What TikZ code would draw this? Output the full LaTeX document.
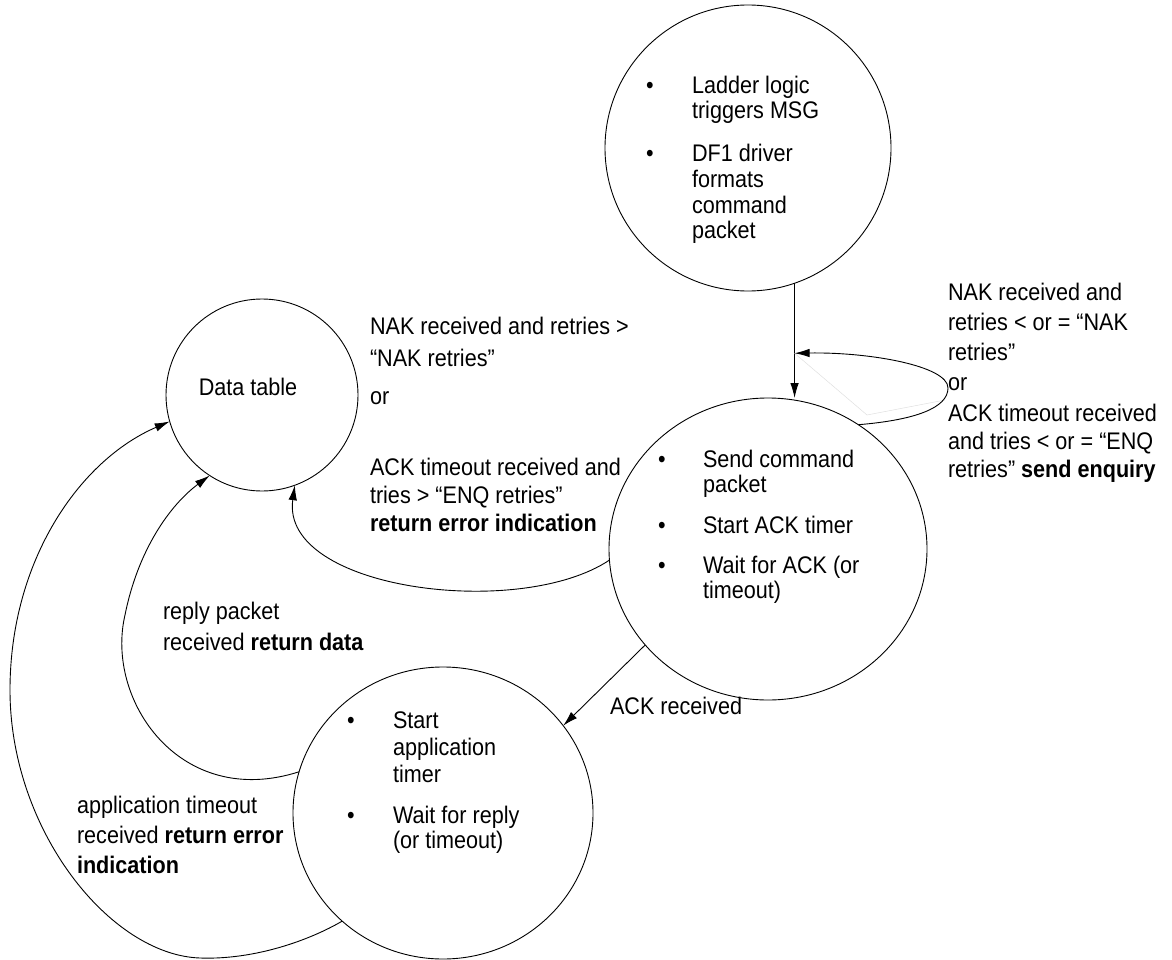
\documentclass[tikz,border=0pt]{standalone}
\usepackage{fontspec}
\setmainfont{Liberation Sans}[FakeStretch=0.9]
\usetikzlibrary{shapes.geometric, arrows.meta, calc}
\newcommand\diagfont{\fontsize{24}{25}\selectfont}
\begin{document}
\begin{tikzpicture}[x=1pt, y=-1pt,
  every node/.style={font=\diagfont, inner sep=0pt, outer sep=0pt},
  state/.style={draw, ellipse, line width=0.9pt},
  conn/.style={line width=0.9pt, -{Latex[length=15pt,width=8.5pt]}},
  txt/.style={anchor=base west},
  dot/.style={anchor=base},
]
\useasboundingbox (0,0) rectangle (1172,960);

% states
\node[state, minimum width=286pt, minimum height=286pt] (top) at (748,148) {};
\node[state, minimum width=192pt, minimum height=192pt] (dt) at (262,395) {};
\node[state, minimum width=318pt, minimum height=302pt] (mid) at (768,549) {};
\node[state, minimum width=300pt, minimum height=292pt] (bot) at (443,813) {};

% top state text
\node[dot] (b1) at (650,94) {\textbullet};
\node[txt] (t1) at (692,94) {Ladder logic};
\node[txt] (t2) at (692,119) {triggers MSG};
\node[dot] (b2) at (650,162) {\textbullet};
\node[txt] (t3) at (692,162) {DF1 driver};
\node[txt] (t4) at (692,188) {formats};
\node[txt] (t5) at (692,213) {command};
\node[txt] (t6) at (692,238) {packet};

% data table
\node[anchor=base] (dtl) at (248,395) {Data table};

% middle state text
\node[dot] (b3) at (662,467) {\textbullet};
\node[txt] (m1) at (703,467) {Send command};
\node[txt] (m2) at (703,492) {packet};
\node[dot] (b4) at (662,533) {\textbullet};
\node[txt] (m3) at (703,533) {Start ACK timer};
\node[dot] (b5) at (662,573) {\textbullet};
\node[txt] (m4) at (703,573) {Wait for ACK (or};
\node[txt] (m5) at (703,598) {timeout)};

% bottom state text
\node[dot] (b6) at (351,728) {\textbullet};
\node[txt] (s1) at (393,728) {Start};
\node[txt] (s2) at (393,755) {application};
\node[txt] (s3) at (393,782) {timer};
\node[dot] (b7) at (351,823) {\textbullet};
\node[txt] (s4) at (393,823) {Wait for reply};
\node[txt] (s5) at (393,848) {(or timeout)};

% transitions
\draw[conn] (top.289) -- coordinate[pos=0.61] (join) (top.289 |- mid.north);
\draw[gray!25, line width=0.5pt] (join) -- (867,415) -- (945,400);
\draw[conn] (mid.54) .. controls (915,420) and (948,408) .. (948,388)
  .. controls (948,366) and (870,352) .. (join);
\draw[conn] (mid.184) .. controls (520,620) and (280,590) .. (dt.290);
\draw[conn] (mid.218) -- (bot.36);
\draw[conn] (bot.164) .. controls (180,810) and (105,700) .. (125,615)
  .. controls (138,550) and (170,505) .. (dt.237);
\draw[conn] (bot.227) .. controls (310,940) and (255,960) .. (200,958)
  .. controls (110,955) and (10,830) .. (10,690)
  .. controls (10,560) and (80,460) .. (dt.196);

% transition labels
\node[txt] (l1) at (370,334) {NAK received and retries >};
\node[txt] (l2) at (370,366) {“NAK retries”};
\node[txt] (l3) at (370,404) {or};
\node[txt] (l4) at (370,475) {ACK timeout received and};
\node[txt] (l5) at (370,503) {tries > “ENQ retries”};
\node[txt] (l6) at (370,531) {\textbf{return error indication}};

\node[txt] (r1) at (948,300) {NAK received and};
\node[txt] (r2) at (948,330) {retries < or = “NAK};
\node[txt] (r3) at (948,360) {retries”};
\node[txt] (r4) at (948,390) {or};
\node[txt] (r5) at (948,421) {ACK timeout received};
\node[txt] (r6) at (948,449) {and tries < or = “ENQ};
\node[txt] (r7) at (948,477) {retries” \textbf{send enquiry}};

\node[txt] (k1) at (610,714) {ACK received};

\node[txt] (p1) at (163,619) {reply packet};
\node[txt] (p2) at (163,650) {received \textbf{return data}};

\node[txt] (a1) at (77,813) {application timeout};
\node[txt] (a2) at (77,843) {received \textbf{return error}};
\node[txt] (a3) at (77,873) {\textbf{indication}};
\end{tikzpicture}
\end{document}
